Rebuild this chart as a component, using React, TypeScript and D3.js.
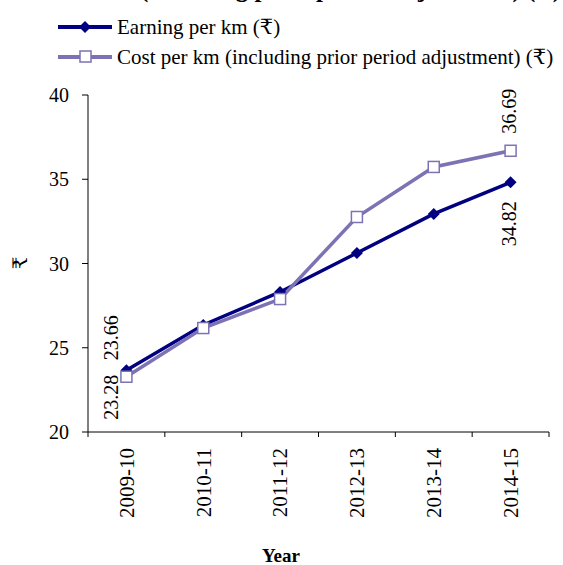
import React from "react";
import * as d3 from "d3";

const years = ["2009-10", "2010-11", "2011-12", "2012-13", "2013-14", "2014-15"];
const earning = [23.66, 26.35, 28.31, 30.62, 32.94, 34.82];
const cost = [23.28, 26.17, 27.89, 32.76, 35.73, 36.69];
const yTicks = [20, 25, 30, 35, 40];
const seriesNames = ["Earning per km (₹)", "Cost per km (including prior period adjustment) (₹)"];
const titleLines = ["Earning per km and Cost per km", "(including prior period adjustment) (₹)"];
// data labels: series index, point index, position
const dataLabels = [
  { s: 0, i: 0, pos: "above" },
  { s: 1, i: 0, pos: "below" },
  { s: 1, i: 5, pos: "above" },
  { s: 0, i: 5, pos: "below" },
];

const W = 563;
const H = 565;
const FONT = "Liberation Serif, Times New Roman, Tinos, DejaVu Serif, serif";
const NAVY = "#000080";
const LAV = "#7D72B4";

export default function App() {
  const x = d3.scaleBand<string>().domain(years).range([88, 549]);
  const y = d3.scaleLinear().domain([20, 40]).range([432, 95]);
  const cx = (d: string) => (x(d) as number) + x.bandwidth() / 2;
  const line = d3
    .line<number>()
    .x((_, i) => cx(years[i]))
    .y((v) => y(v));
  const series = [earning, cost];
  const colors = [NAVY, LAV];
  const bounds = [...years.map((d) => x(d) as number), 549];
  const ts = { fontFamily: FONT };

  return (
    <svg
      width={W}
      height={H}
      style={{ position: "absolute", left: 0, top: 0, background: "#fff", fontFamily: FONT }}
    >
      {/* title (cut off at the top edge, as in the reference) */}
      <text x={140} y={-31} fontSize={25} fontWeight="bold" style={ts}>
        {titleLines[0]}
      </text>
      <text x={140} y={-3} fontSize={25} fontWeight="bold" style={ts}>
        {titleLines[1]}
      </text>

      {/* legend */}
      {seriesNames.map((name, k) => {
        const ly = 27 + k * 30;
        return (
          <g key={name}>
            <line x1={58} x2={112} y1={ly} y2={ly} stroke={colors[k]} strokeWidth={4} />
            {k === 0 ? (
              <path d={`M85,${ly - 6}L91,${ly}L85,${ly + 6}L79,${ly}Z`} fill={NAVY} />
            ) : (
              <rect x={80} y={ly - 6} width={11} height={11} fill="#fff" stroke={LAV} strokeWidth={1.5} />
            )}
            <text x={117} y={ly + 7} fontSize={21} style={ts}>
              {name}
            </text>
          </g>
        );
      })}

      {/* axes */}
      <line x1={88} x2={88} y1={95} y2={432} stroke="#000" strokeWidth={1} />
      <line x1={88} x2={549} y1={432} y2={432} stroke="#000" strokeWidth={1} />
      {yTicks.map((t) => (
        <g key={t}>
          <line x1={82} x2={88} y1={y(t)} y2={y(t)} stroke="#000" />
          <text x={69} y={y(t)} dy="0.35em" fontSize={20} textAnchor="end" style={ts}>
            {t}
          </text>
        </g>
      ))}
      {bounds.map((b, i) => (
        <line key={i} x1={b} x2={b} y1={432} y2={437} stroke="#000" />
      ))}
      {years.map((yr) => (
        <text
          key={yr}
          transform={`translate(${cx(yr)},448) rotate(-90)`}
          textAnchor="end"
          dy="0.35em"
          fontSize={21}
          style={ts}
        >
          {yr}
        </text>
      ))}
      <text transform={`translate(20,263) rotate(-90)`} textAnchor="middle" dy="0.35em" fontSize={20} style={ts}>
        ₹
      </text>
      <text x={281} y={562} textAnchor="middle" fontSize={19} fontWeight="bold" style={ts}>
        Year
      </text>

      {/* lines */}
      {series.map((s, k) => (
        <path key={k} d={line(s) as string} fill="none" stroke={colors[k]} strokeWidth={3.5} />
      ))}
      {earning.map((v, i) => {
        const px = cx(years[i]);
        const py = y(v);
        return <path key={"e" + i} d={`M${px},${py - 6}L${px + 6},${py}L${px},${py + 6}L${px - 6},${py}Z`} fill={NAVY} />;
      })}
      {cost.map((v, i) => {
        const px = cx(years[i]);
        const py = y(v);
        return (
          <rect key={"c" + i} x={px - 5.5} y={py - 5.5} width={11} height={11} fill="#fff" stroke={LAV} strokeWidth={1.5} />
        );
      })}

      {/* data labels */}
      {dataLabels.map((l, k) => {
        const v = series[l.s][l.i];
        const px = cx(years[l.i]) + (l.i === 0 ? -15 : -2);
        const py = y(v);
        let ty: number;
        let anchor: string;
        if (l.pos === "above") {
          ty = py - (l.i === 0 ? 10 : 17);
          anchor = "start";
        } else {
          ty = py + (l.i === 0 ? -2 : 19);
          anchor = "end";
        }
        return (
          <text
            key={k}
            transform={`translate(${px},${ty}) rotate(-90)`}
            textAnchor={anchor}
            dy="0.35em"
            fontSize={20}
            style={ts}
          >
            {v.toFixed(2)}
          </text>
        );
      })}
    </svg>
  );
}
